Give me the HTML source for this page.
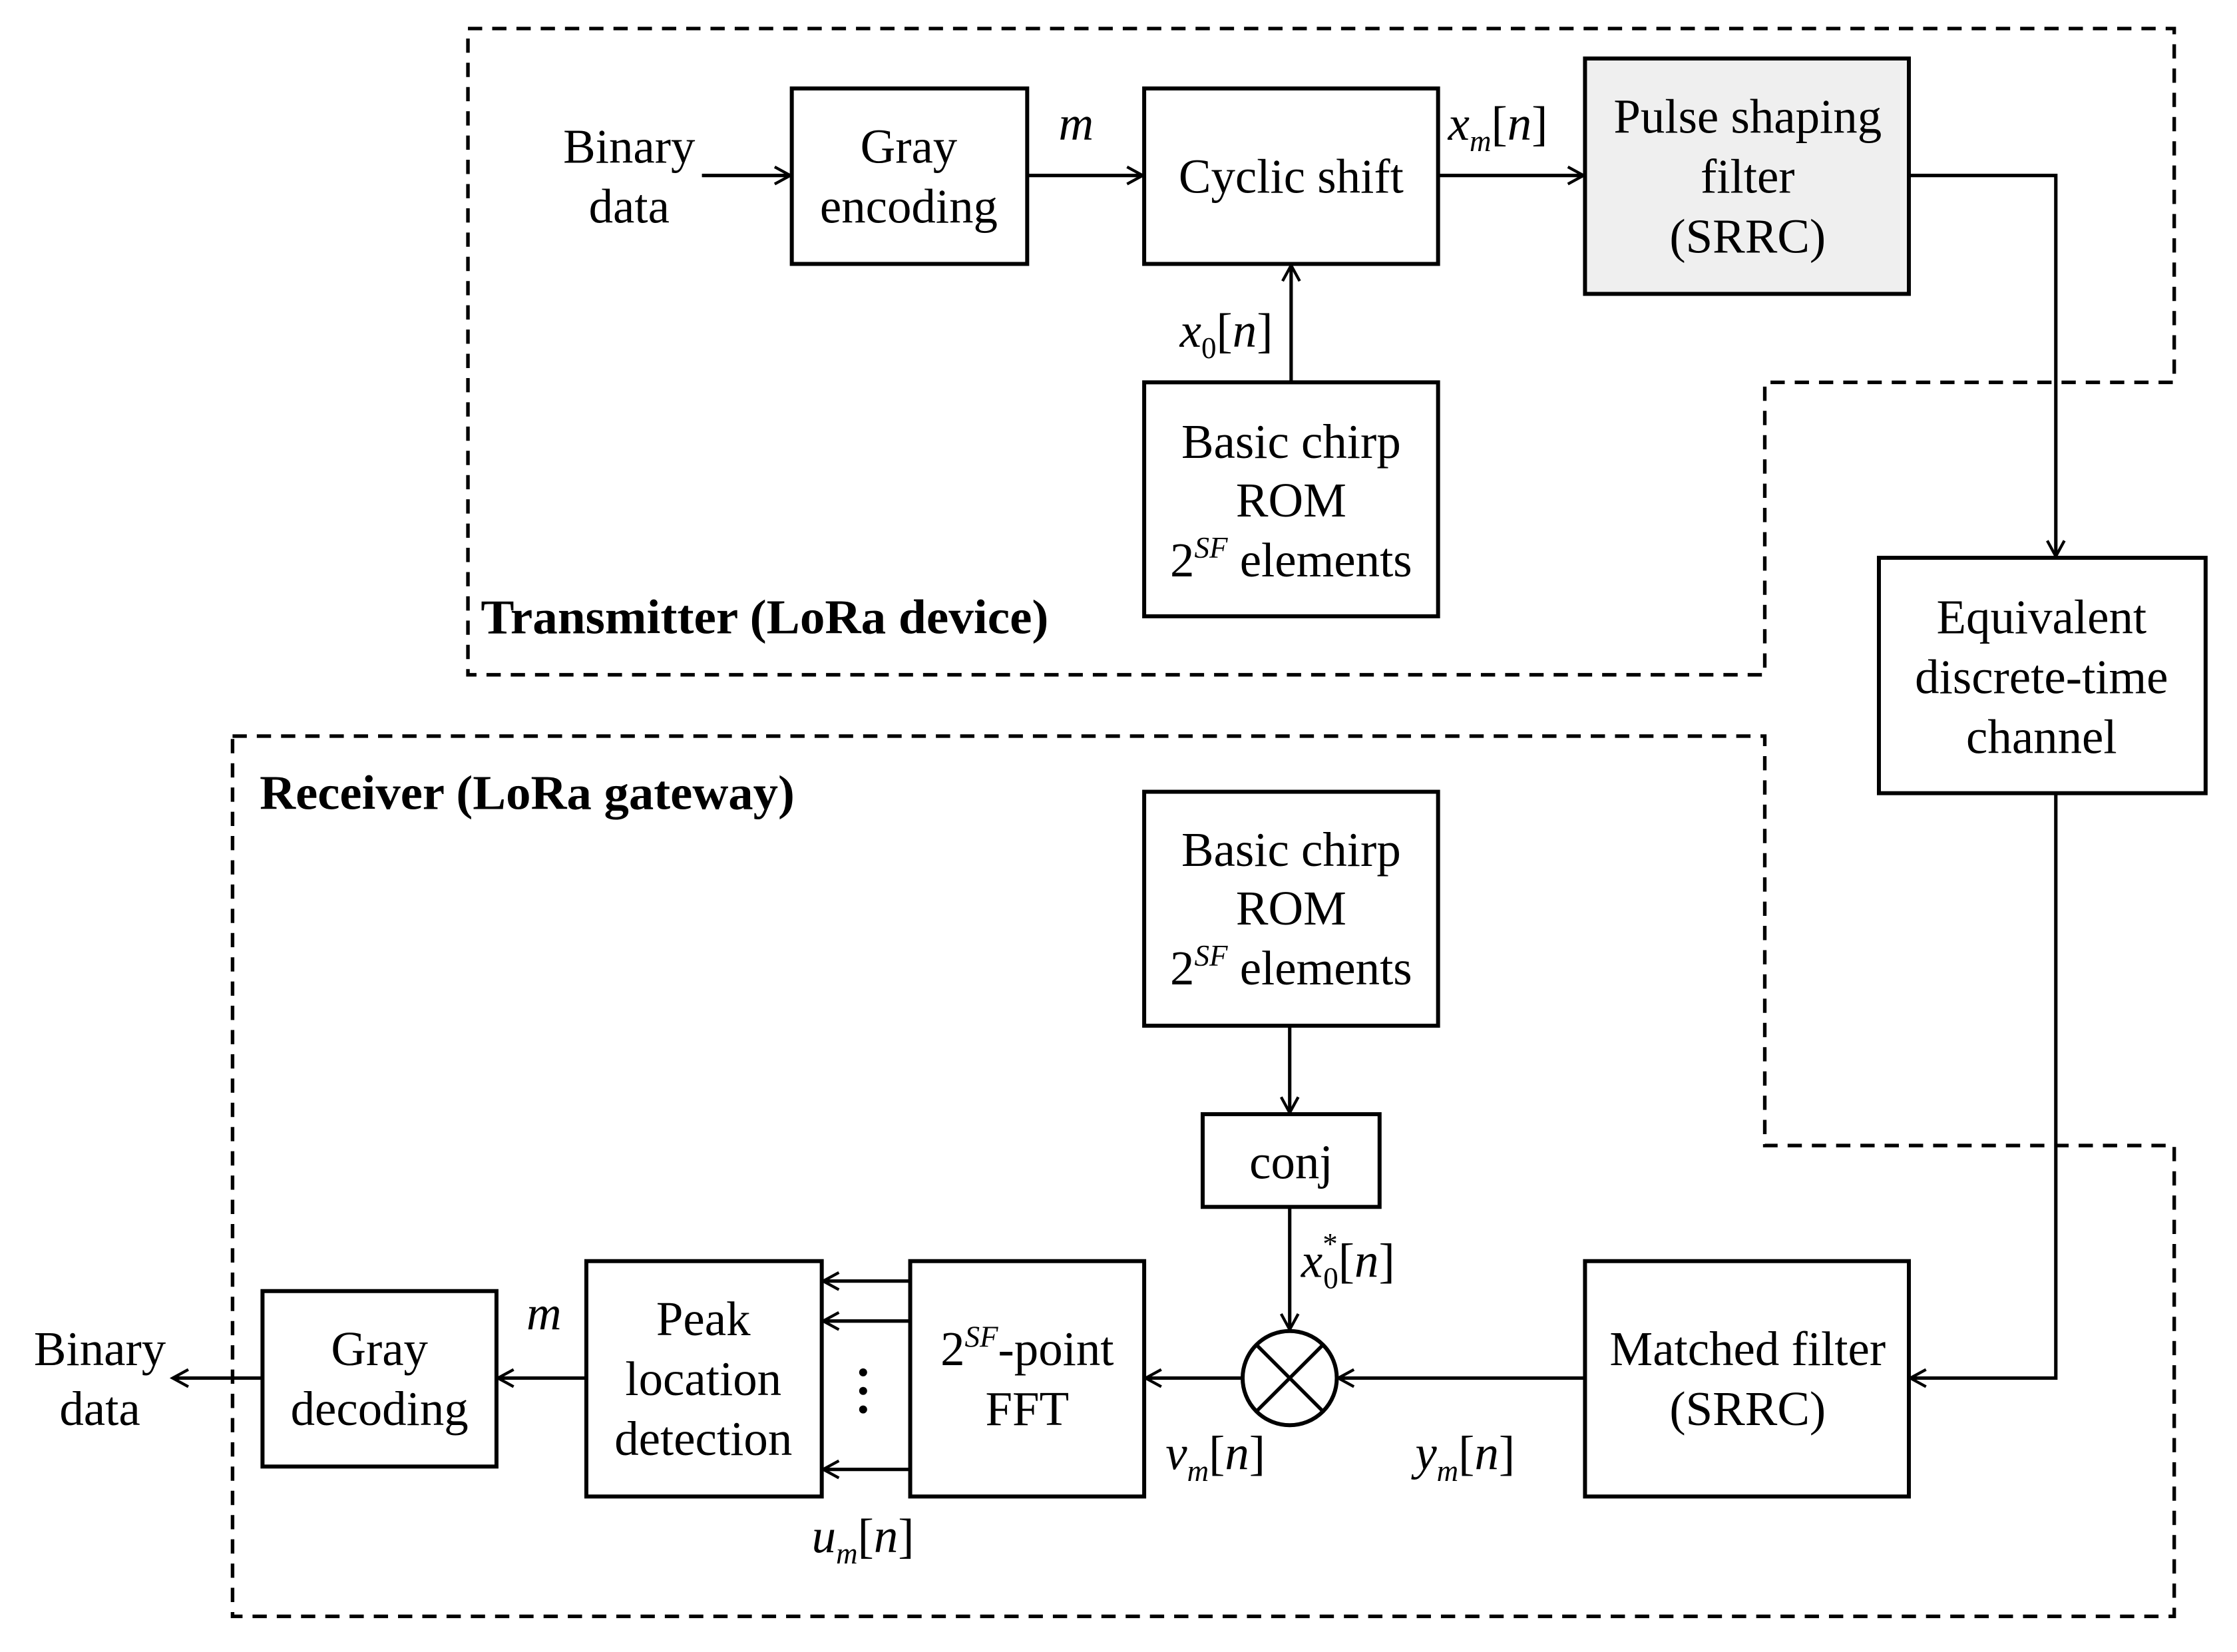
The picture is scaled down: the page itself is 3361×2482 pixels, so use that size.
<!DOCTYPE html>
<html><head><meta charset="utf-8"><style>
html,body{margin:0;padding:0;background:#fff;}
svg{display:block;}
text{font-family:"Liberation Serif","Times New Roman",serif;font-size:34px;fill:#000;}
.b{font-weight:bold;font-size:34px;}
.i{font-style:italic;}
</style></head><body>
<svg width="3361" height="2482" viewBox="0 0 1568 1158" preserveAspectRatio="none" xmlns="http://www.w3.org/2000/svg" font-family="Liberation Serif, serif">
<defs>
<marker id="a" markerWidth="14" markerHeight="14" refX="12" refY="7" orient="auto" markerUnits="userSpaceOnUse">
<path d="M1,1 L12,7 L1,13" fill="none" stroke="#000" stroke-width="2"/>
</marker>
</defs>
<g fill="none" stroke="#000" stroke-width="2.5" stroke-dasharray="10,7">
<path d="M328,20 H1524 V268 H1237 V473 H328 Z"/>
<path d="M163,516 H1237 V803 H1524 V1133 H163 Z"/>
</g>
<g stroke="#000" stroke-width="2.8" fill="#fff">
<rect x="555" y="62" width="165" height="123"/>
<rect x="802" y="62" width="206" height="123"/>
<rect x="1111" y="41" width="227" height="165" fill="#efefef"/>
<rect x="802" y="268" width="206" height="164"/>
<rect x="1317" y="391" width="229" height="165"/>
<rect x="802" y="555" width="206" height="164"/>
<rect x="843" y="781" width="124" height="65"/>
<rect x="1111" y="884" width="227" height="165"/>
<rect x="638" y="884" width="164" height="165"/>
<rect x="411" y="884" width="165" height="165"/>
<rect x="184" y="905" width="164" height="123"/>
<circle cx="904" cy="966" r="33"/>
</g>
<g stroke="#000" stroke-width="2.5">
<line x1="881" y1="943" x2="927" y2="989"/><line x1="927" y1="943" x2="881" y2="989"/>
</g>
<g stroke="#000" stroke-width="2.4" fill="none" marker-end="url(#a)">
<line x1="492" y1="123" x2="554" y2="123"/>
<line x1="720" y1="123" x2="801" y2="123"/>
<line x1="1008" y1="123" x2="1110" y2="123"/>
<line x1="905" y1="268" x2="905" y2="186"/>
<path d="M1338,123 H1441 V390"/>
<path d="M1441,556 V966 H1339"/>
<line x1="1111" y1="966" x2="938" y2="966"/>
<line x1="904" y1="719" x2="904" y2="780"/>
<line x1="904" y1="846" x2="904" y2="932"/>
<line x1="871" y1="966" x2="803" y2="966"/>
<line x1="638" y1="898" x2="577" y2="898"/>
<line x1="638" y1="926" x2="577" y2="926"/>
<line x1="638" y1="1030" x2="577" y2="1030"/>
<line x1="411" y1="966" x2="349" y2="966"/>
<line x1="184" y1="966" x2="121" y2="966"/>
</g>
<g fill="#000"><circle cx="605" cy="962" r="2.8"/><circle cx="605" cy="975" r="2.8"/><circle cx="605" cy="988" r="2.8"/></g>
<g text-anchor="middle">
<text x="441" y="114">Binary</text><text x="441" y="156">data</text>
<text x="637" y="114">Gray</text><text x="637" y="156">encoding</text>
<text x="905" y="135">Cyclic shift</text>
<text x="1225" y="93">Pulse shaping</text><text x="1225" y="135">filter</text><text x="1225" y="177">(SRRC)</text>
<text x="905" y="321">Basic chirp</text><text x="905" y="362">ROM</text>
<text x="905" y="404">2<tspan class="i" font-size="21" dy="-13">SF</tspan><tspan dy="13"> elements</tspan></text>
<text x="1431" y="444">Equivalent</text><text x="1431" y="486">discrete-time</text><text x="1431" y="528">channel</text>
<text x="905" y="607">Basic chirp</text><text x="905" y="648">ROM</text>
<text x="905" y="690">2<tspan class="i" font-size="21" dy="-13">SF</tspan><tspan dy="13"> elements</tspan></text>
<text x="905" y="826">conj</text>
<text x="1225" y="957">Matched filter</text><text x="1225" y="999">(SRRC)</text>
<text x="720" y="957">2<tspan class="i" font-size="21" dy="-13">SF</tspan><tspan dy="13">-point</tspan></text><text x="720" y="999">FFT</text>
<text x="493" y="936">Peak</text><text x="493" y="978">location</text><text x="493" y="1020">detection</text>
<text x="266" y="957">Gray</text><text x="266" y="999">decoding</text>
<text x="70" y="957">Binary</text><text x="70" y="999">data</text>
</g>
<text class="i" x="742" y="98">m</text>
<text class="i" x="369" y="932">m</text>
<text x="1015" y="98"><tspan class="i">x</tspan><tspan class="i" font-size="21" dy="8">m</tspan><tspan dy="-8">[</tspan><tspan class="i">n</tspan>]</text>
<text x="827" y="243"><tspan class="i">x</tspan><tspan font-size="21" dy="8">0</tspan><tspan dy="-8">[</tspan><tspan class="i">n</tspan>]</text>
<text x="912" y="895"><tspan class="i">x</tspan><tspan font-size="21" dy="-16">*</tspan><tspan font-size="21" dx="-10" dy="24">0</tspan><tspan dy="-8">[</tspan><tspan class="i">n</tspan>]</text>
<text x="817" y="1030"><tspan class="i">v</tspan><tspan class="i" font-size="21" dy="8">m</tspan><tspan dy="-8">[</tspan><tspan class="i">n</tspan>]</text>
<text x="992" y="1030"><tspan class="i">y</tspan><tspan class="i" font-size="21" dy="8">m</tspan><tspan dy="-8">[</tspan><tspan class="i">n</tspan>]</text>
<text x="569" y="1088"><tspan class="i">u</tspan><tspan class="i" font-size="21" dy="8">m</tspan><tspan dy="-8">[</tspan><tspan class="i">n</tspan>]</text>
<text class="b" x="337" y="444" textLength="398" lengthAdjust="spacingAndGlyphs">Transmitter (LoRa device)</text>
<text class="b" x="182" y="567" textLength="375" lengthAdjust="spacingAndGlyphs">Receiver (LoRa gateway)</text>
</svg>
</body></html>
